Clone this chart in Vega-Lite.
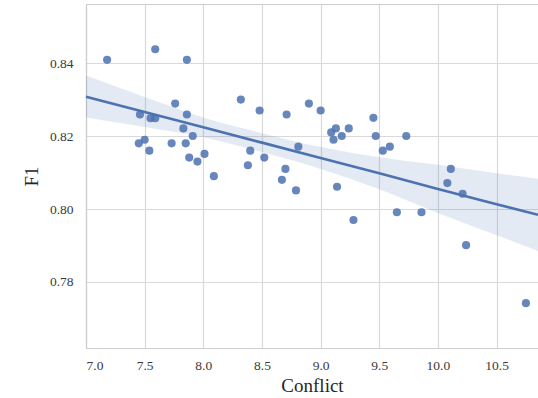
{
  "$schema": "https://vega.github.io/schema/vega-lite/v6.json",
  "autosize": {"type": "none"},
  "padding": {"left": 86, "top": 4, "right": 0, "bottom": 50},
  "width": 452,
  "height": 344,
  "background": "white",
  "config": {
    "view": {"stroke": null},
    "axis": {
      "labelFont": "Liberation Serif",
      "titleFont": "Liberation Serif",
      "labelFontSize": 13.5,
      "titleFontSize": 19,
      "titleFontWeight": "normal",
      "labelColor": "#3a3a3a",
      "titleColor": "#262626",
      "gridColor": "#d9d9d9",
      "gridWidth": 1.2,
      "domain": true,
      "domainColor": "#cccccc",
      "domainWidth": 1.2,
      "ticks": false
    }
  },
  "resolve": {"axis": {"x": "independent"}},
  "datasets": {
    "points": [
      {"Conflict": 7.18, "F1": 0.8409}, {"Conflict": 7.59, "F1": 0.8438}, {"Conflict": 7.86, "F1": 0.8409},
      {"Conflict": 7.76, "F1": 0.8289}, {"Conflict": 7.46, "F1": 0.8259}, {"Conflict": 7.55, "F1": 0.8249},
      {"Conflict": 7.59, "F1": 0.8249}, {"Conflict": 7.86, "F1": 0.8259}, {"Conflict": 7.83, "F1": 0.8221},
      {"Conflict": 7.91, "F1": 0.8200}, {"Conflict": 7.45, "F1": 0.8180}, {"Conflict": 7.50, "F1": 0.8190},
      {"Conflict": 7.54, "F1": 0.8160}, {"Conflict": 7.73, "F1": 0.8180}, {"Conflict": 7.85, "F1": 0.8180},
      {"Conflict": 7.88, "F1": 0.8141}, {"Conflict": 7.95, "F1": 0.8130}, {"Conflict": 8.01, "F1": 0.8151},
      {"Conflict": 8.09, "F1": 0.8090}, {"Conflict": 8.32, "F1": 0.8300}, {"Conflict": 8.48, "F1": 0.8270},
      {"Conflict": 8.71, "F1": 0.8259}, {"Conflict": 8.90, "F1": 0.8289}, {"Conflict": 8.40, "F1": 0.8160},
      {"Conflict": 8.38, "F1": 0.8120}, {"Conflict": 8.52, "F1": 0.8141}, {"Conflict": 8.81, "F1": 0.8171},
      {"Conflict": 8.70, "F1": 0.8110}, {"Conflict": 8.67, "F1": 0.8080}, {"Conflict": 8.79, "F1": 0.8051},
      {"Conflict": 9.00, "F1": 0.8270}, {"Conflict": 9.45, "F1": 0.8250}, {"Conflict": 9.09, "F1": 0.8210},
      {"Conflict": 9.13, "F1": 0.8221}, {"Conflict": 9.11, "F1": 0.8190}, {"Conflict": 9.18, "F1": 0.8200},
      {"Conflict": 9.24, "F1": 0.8221}, {"Conflict": 9.47, "F1": 0.8200}, {"Conflict": 9.73, "F1": 0.8200},
      {"Conflict": 9.53, "F1": 0.8160}, {"Conflict": 9.59, "F1": 0.8171}, {"Conflict": 10.11, "F1": 0.8110},
      {"Conflict": 10.08, "F1": 0.8071}, {"Conflict": 10.21, "F1": 0.8042}, {"Conflict": 9.14, "F1": 0.8061},
      {"Conflict": 9.28, "F1": 0.7970}, {"Conflict": 9.65, "F1": 0.7991}, {"Conflict": 9.86, "F1": 0.7991},
      {"Conflict": 10.24, "F1": 0.7901}, {"Conflict": 10.75, "F1": 0.7742}
    ],
    "fit": [
      {"Conflict": 7.0, "fit": 0.8308, "lo": 0.8251, "hi": 0.8366},
      {"Conflict": 7.5, "fit": 0.8266, "lo": 0.8225, "hi": 0.8307},
      {"Conflict": 8.0, "fit": 0.8224, "lo": 0.8197, "hi": 0.8251},
      {"Conflict": 8.5, "fit": 0.8182, "lo": 0.8156, "hi": 0.8208},
      {"Conflict": 9.0, "fit": 0.8140, "lo": 0.8110, "hi": 0.8170},
      {"Conflict": 9.5, "fit": 0.8098, "lo": 0.8054, "hi": 0.8142},
      {"Conflict": 10.0, "fit": 0.8055, "lo": 0.7989, "hi": 0.8121},
      {"Conflict": 10.5, "fit": 0.8013, "lo": 0.7928, "hi": 0.8098},
      {"Conflict": 10.853, "fit": 0.7984, "lo": 0.7885, "hi": 0.8083}
    ]
  },
  "layer": [
    {
      "data": {"name": "fit"},
      "mark": {"type": "area", "color": "#4c72b0", "opacity": 0.15, "interpolate": "monotone"},
      "encoding": {
        "x": {"field": "Conflict", "type": "quantitative",
              "scale": {"domain": [7.0, 10.853], "nice": false, "zero": false},
              "axis": {"values": [7.0, 7.5, 8.0, 8.5, 9.0, 9.5, 10.0, 10.5], "format": ".1f", "title": "Conflict", "labelPadding": 10, "titlePadding": 5}},
        "y": {"field": "lo", "type": "quantitative",
              "scale": {"domain": [0.7619, 0.8562], "nice": false, "zero": false},
              "axis": {"values": [0.78, 0.80, 0.82, 0.84], "format": ".2f", "title": "F1", "labelPadding": 13, "titlePadding": 8}},
        "y2": {"field": "hi"}
      }
    },
    {
      "data": {"name": "fit"},
      "mark": {"type": "line", "color": "#4c72b0", "strokeWidth": 2.6},
      "encoding": {
        "x": {"field": "Conflict", "type": "quantitative",
              "axis": {"orient": "top", "labels": false, "grid": false, "title": null, "domain": true}},
        "y": {"field": "fit", "type": "quantitative"}
      }
    },
    {
      "data": {"name": "points"},
      "mark": {"type": "circle", "color": "#4c72b0", "opacity": 0.85, "size": 66},
      "encoding": {
        "x": {"field": "Conflict", "type": "quantitative", "axis": null},
        "y": {"field": "F1", "type": "quantitative"}
      }
    }
  ]
}
